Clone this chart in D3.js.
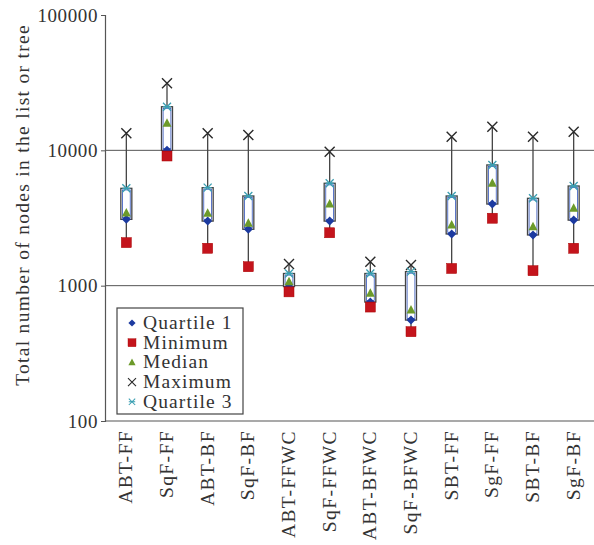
<!DOCTYPE html>
<html>
<head>
<meta charset="utf-8">
<script src="https://cdn.jsdelivr.net/npm/d3@7"></script>
<style>
  body { margin: 0; background: #fff; }
  text { font-family: "Liberation Serif", "DejaVu Serif", serif; fill: #333; letter-spacing: 1px; }
</style>
</head>
<body>
<svg id="chart"></svg>
<script>
const categories = ['ABT-FF', 'SqF-FF', 'ABT-BF', 'SqF-BF', 'ABT-FFWC', 'SqF-FFWC',
                    'ABT-BFWC', 'SqF-BFWC', 'SBT-FF', 'SgF-FF', 'SBT-BF', 'SgF-BF']
const minimum   = [2080,  9080, 1890, 1380,  900, 2460, 695, 457, 1340, 3150, 1290, 1890]
const quartile1 = [3090, 10000, 3000, 2610,  985, 3000, 757, 557, 2410, 4010, 2370, 3050]
const median    = [3440, 15850, 3430, 2890, 1070, 4010, 880, 660, 2810, 5710, 2730, 3730]
const quartile3 = [5240, 21000, 5300, 4600, 1230, 5710, 1230, 1270, 4600, 7800, 4420, 5450]
const maximum   = [13360, 31300, 13360, 12980, 1445, 9770, 1500, 1420, 12620, 14950, 12620, 13740]
const yTicks = [100, 1000, 10000, 100000]
const legendLabels = ['Quartile 1', 'Minimum', 'Median', 'Maximum', 'Quartile 3']

const width = 594, height = 545
const marginLeft = 105, marginTop = 15, plotBottom = 421
const fontSize = 19.5

const svg = d3.select('#chart')
              .attr('width', width)
              .attr('height', height)
              .attr('viewBox', [0, 0, width, height])

const xScale = d3.scalePoint(categories, [106, 594]).padding(0.5)
const yScale = d3.scaleLog([100, 100000], [plotBottom, marginTop])

// grid lines
svg.append('g')
   .selectAll('line')
   .data(yTicks.slice(1, -1))
   .join('line')
     .attr('x1', marginLeft).attr('x2', width)
     .attr('y1', d => yScale(d)).attr('y2', d => yScale(d))
     .attr('stroke', '#555').attr('stroke-width', 1)

// axes
const yAxis = d3.axisLeft(yScale).tickValues(yTicks).tickFormat(d3.format('d')).tickSize(4).tickPadding(3)
svg.append('g')
   .attr('transform', `translate(${marginLeft},0)`)
   .call(yAxis)
   .call(g => g.select('.domain').attr('stroke', '#555').attr('stroke-width', 1.2))
   .call(g => g.selectAll('.tick line').attr('stroke', '#555'))
   .call(g => g.selectAll('.tick text').attr('font-size', 19).attr('fill', '#333')
               .attr('font-family', '"Liberation Serif", serif').style('letter-spacing', '0.6px'))

svg.append('line')
   .attr('x1', marginLeft).attr('x2', width)
   .attr('y1', plotBottom).attr('y2', plotBottom)
   .attr('stroke', '#555').attr('stroke-width', 1.2)

// x labels, rotated
svg.append('g')
   .selectAll('text')
   .data(categories)
   .join('text')
     .attr('transform', d => `translate(${xScale(d) + 6},${plotBottom + 9}) rotate(-90)`)
     .attr('text-anchor', 'end')
     .attr('font-size', fontSize)
     .style('letter-spacing', '1.4px')
     .text(d => d)

// y axis title
svg.append('text')
   .attr('transform', `translate(29,${(marginTop + plotBottom) / 2 - 13}) rotate(-90)`)
   .attr('text-anchor', 'middle')
   .attr('font-size', fontSize)
   .style('letter-spacing', '1.3px')
   .text('Total number of nodes in the list or tree')

// boxes
const boxW = 11
const idx = d3.range(categories.length)
const boxes = svg.append('g')

boxes.selectAll('line.whisker')
     .data(idx)
     .join('line')
       .attr('class', 'whisker')
       .attr('x1', i => xScale(categories[i])).attr('x2', i => xScale(categories[i]))
       .attr('y1', i => yScale(maximum[i])).attr('y2', i => yScale(minimum[i]))
       .attr('stroke', '#444').attr('stroke-width', 1.3)

boxes.selectAll('rect.outer')
     .data(idx)
     .join('rect')
       .attr('class', 'outer')
       .attr('x', i => xScale(categories[i]) - boxW / 2)
       .attr('y', i => yScale(quartile3[i]))
       .attr('width', boxW)
       .attr('height', i => yScale(quartile1[i]) - yScale(quartile3[i]))
       .attr('fill', '#fff').attr('stroke', '#444').attr('stroke-width', 1.3)

boxes.selectAll('rect.inner')
     .data(idx)
     .join('rect')
       .attr('class', 'inner')
       .attr('x', i => xScale(categories[i]) - boxW / 2 + 1.6)
       .attr('y', i => yScale(quartile3[i]) + 1.6)
       .attr('width', boxW - 3.2)
       .attr('height', i => Math.max(0, yScale(quartile1[i]) - yScale(quartile3[i]) - 3.2))
       .attr('fill', 'none').attr('stroke', '#3355bb').attr('stroke-width', 0.8)

// markers
const colors = {q1: '#1c3aa0', min: '#c4141c', med: '#6c9a2a', max: '#2a2a2a', q3: '#3a9fb2'}

function drawMarker(g, type) {
    if (type === 'q1') {
        g.append('path').attr('d', 'M0,-4.5L4.5,0L0,4.5L-4.5,0Z').attr('fill', colors.q1)
    } else if (type === 'min') {
        g.append('rect').attr('x', -5).attr('y', -5).attr('width', 10).attr('height', 10)
         .attr('fill', colors.min).attr('stroke', '#a00').attr('stroke-width', 0.5)
    } else if (type === 'med') {
        g.append('path').attr('d', 'M0,-5L4.5,3.5L-4.5,3.5Z').attr('fill', colors.med)
    } else if (type === 'max') {
        g.append('path').attr('d', 'M-5,-5L5,5M-5,5L5,-5')
         .attr('stroke', colors.max).attr('stroke-width', 1.4).attr('fill', 'none')
    } else if (type === 'q3') {
        g.append('path').attr('d', 'M-4,-4L4,4M-4,4L4,-4M-4,0L4,0')
         .attr('stroke', colors.q3).attr('stroke-width', 1.3).attr('fill', 'none')
    }
}

const series = [
    {type: 'q1', values: quartile1},
    {type: 'min', values: minimum},
    {type: 'med', values: median},
    {type: 'max', values: maximum},
    {type: 'q3', values: quartile3},
]

series.forEach(s => {
    svg.append('g')
       .selectAll('g')
       .data(idx)
       .join('g')
         .attr('transform', i => `translate(${xScale(categories[i])},${yScale(s.values[i])})`)
         .each(function() { drawMarker(d3.select(this), s.type) })
})

// legend
const legend = svg.append('g').attr('transform', 'translate(117,308)')
legend.append('rect')
      .attr('width', 126).attr('height', 106)
      .attr('fill', '#fff').attr('stroke', '#444').attr('stroke-width', 1.2)

const entry = legend.selectAll('g.entry')
      .data(series)
      .join('g')
        .attr('class', 'entry')
        .attr('transform', (d, i) => `translate(15,${15 + i * 19.7})`)
entry.each(function(d) {
    const g = d3.select(this).append('g').attr('transform', 'scale(0.8)')
    drawMarker(g, d.type)
})
entry.append('text')
     .attr('x', 11)
     .attr('y', 6)
     .attr('font-size', fontSize)
     .style('letter-spacing', '1.1px')
     .text((d, i) => legendLabels[i])
</script>
</body>
</html>
